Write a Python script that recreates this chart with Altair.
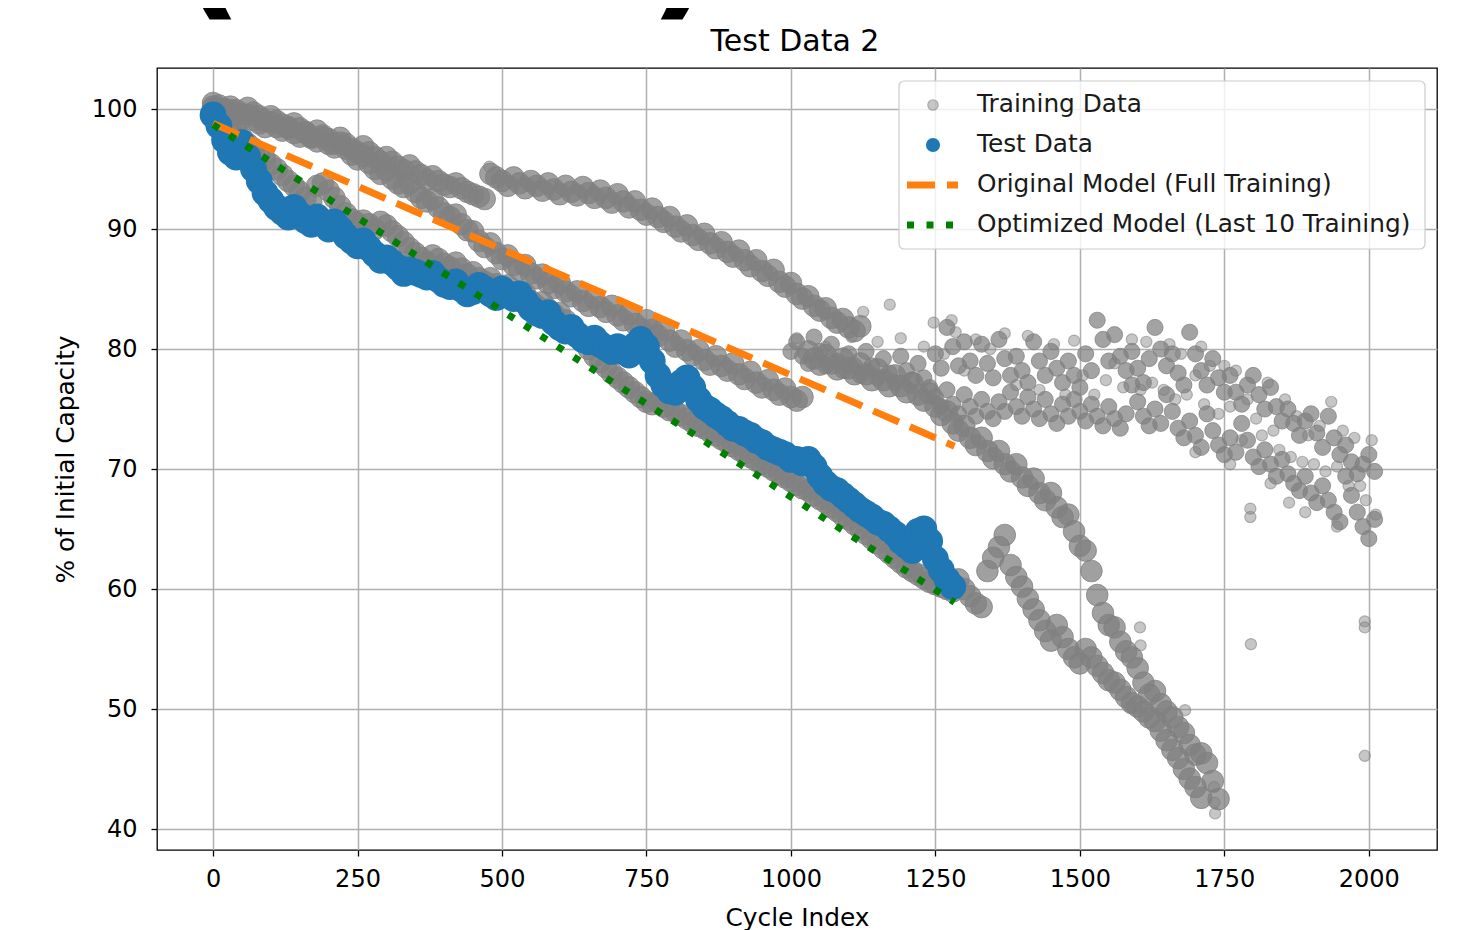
import altair as alt
import pandas as pd

# ---------------- data ----------------
STEP = 10  # cycle spacing of the listed readings

# Test cell (blue), cycles 0..1280
test_start = 0
test_y = [
    99.5, 98.6, 97.4, 96.4, 96.0, 97.2, 96.0, 95.0, 94.0, 93.0,
    92.4, 91.8, 91.4, 91.0, 91.8, 91.2, 90.7, 90.4, 91.0, 90.6,
    90.0, 90.6, 90.0, 89.4, 89.0, 88.6, 89.0, 88.4, 87.9, 87.4,
    87.6, 87.2, 86.8, 86.3, 86.6, 86.4, 86.2, 86.0, 86.3, 85.8,
    85.4, 85.2, 85.6, 85.0, 84.6, 84.8, 85.3, 85.0, 84.6, 84.3,
    85.0, 84.5, 84.2, 84.6, 84.0, 83.4, 83.0, 82.8, 83.0, 82.2,
    81.8, 81.5, 81.8, 81.2, 80.8, 80.6, 80.9, 80.4, 80.1, 79.8,
    80.2, 79.8, 79.5, 80.3, 80.8, 80.2, 79.0, 77.8, 77.0, 76.5,
    76.4, 77.2, 77.6, 76.8, 75.8, 75.2, 74.9, 74.5, 74.2, 73.8,
    73.4, 73.3, 73.0, 72.8, 72.4, 72.2, 71.8, 71.6, 71.4, 71.2,
    70.8, 70.8, 70.5, 70.8, 70.2, 69.4, 68.8, 68.4, 68.2, 67.8,
    67.4, 67.0, 66.6, 66.3, 66.0, 65.6, 65.4, 65.0, 64.6, 64.0,
    63.6, 63.2, 64.8, 65.0, 64.0, 62.5, 61.6, 60.8, 60.2,
]

# Training cell A (top band), cycles 0..1120
cell_a_start = 0
cell_a_y = [
    100.5, 100.3, 100.0, 100.2, 99.9, 99.6, 100.1, 99.7, 99.4, 99.0,
    99.4, 99.0, 98.7, 98.4, 98.8, 98.4, 98.0, 97.7, 98.2, 97.8,
    97.5, 97.1, 97.6, 97.1, 96.7, 96.4, 96.9, 96.4, 96.0, 95.6,
    96.0, 95.6, 95.2, 94.9, 95.3, 94.8, 94.5, 94.1, 94.4, 94.0,
    93.7, 93.5, 93.8, 93.4, 93.1, 92.9, 92.7, 92.5, 94.6, 94.3,
    94.0, 93.6, 94.3, 93.8, 93.4, 94.0, 93.6, 93.2, 93.8, 93.3,
    92.9, 93.6, 93.1, 92.8, 93.5, 93.0, 92.6, 93.2, 92.6, 92.2,
    92.9, 92.3, 91.8, 92.3, 91.6, 91.2, 91.7, 91.0, 90.6, 91.0,
    90.2, 89.8, 90.3, 89.5, 89.1, 89.6, 88.8, 88.4, 88.9, 88.1,
    87.7, 88.2, 87.4, 86.9, 87.4, 86.5, 86.1, 86.6, 85.6, 85.2,
    85.5, 84.6, 84.2, 84.4, 83.6, 83.2, 83.4, 82.6, 82.2, 82.5,
    81.8, 81.5, 81.9,
]

# Training cell B (below the orange line, later the right-hand falling band), cycles 0..1740
cell_b_start = 0
cell_b_y = [
    100.2, 100.0, 99.7, 99.9, 99.5, 99.2, 99.5, 99.1, 98.8, 98.5,
    98.9, 98.5, 98.2, 98.5, 98.0, 97.7, 98.1, 97.6, 97.3, 97.6,
    97.1, 96.8, 97.2, 96.7, 96.2, 95.8, 96.1, 95.5, 95.0, 94.6,
    94.9, 94.2, 93.8, 93.5, 93.8, 93.1, 92.6, 92.3, 92.5, 91.8,
    91.3, 91.0, 91.2, 90.4, 89.9, 89.8, 89.0, 88.5, 88.8, 88.0,
    87.5, 87.8, 87.0, 86.6, 87.0, 86.3, 85.9, 86.2, 85.5, 85.1,
    85.5, 84.8, 84.4, 84.8, 84.0, 83.6, 84.2, 83.5, 83.1, 83.6,
    82.8, 82.4, 82.9, 82.1, 81.7, 82.4, 81.6, 81.1, 81.6, 80.7,
    80.2, 80.7, 79.9, 79.5, 79.9, 79.1, 78.7, 79.4, 78.6, 78.2,
    78.8, 77.9, 77.5, 78.1, 77.2, 76.8, 77.4, 76.6, 76.2, 76.7,
    76.0, 75.7, 76.0, 79.8, 79.2, 78.7, 79.5, 78.8, 78.3, 79.2,
    78.4, 77.9, 78.8, 77.9, 77.4, 78.3, 77.4, 76.9, 77.8, 76.9,
    76.4, 77.2, 76.2, 75.7, 76.3, 75.2, 74.5, 74.8, 73.8, 73.2,
    73.6, 72.6, 72.0, 72.6, 71.5, 70.9, 71.5, 70.4, 69.8, 70.4,
    69.3, 68.6, 69.2, 68.0, 67.4, 68.0, 66.8, 66.0, 66.2, 64.8,
    63.6, 63.2, 61.5, 59.5, 58.0, 57.0, 56.8, 55.6, 54.8, 54.3,
    53.4, 52.2, 51.2, 51.5, 50.4, 49.8, 49.3, 48.5, 48.0, 47.0,
    46.2, 46.3, 45.5, 44.0, 42.5,
]

# Training cell C (fast fading, next to the test cell, then the left falling band), cycles 0..1710
cell_c_start = 0
cell_c_y = [
    100.0, 99.6, 99.1, 98.6, 98.1, 97.6, 97.1, 96.7, 96.3, 95.8,
    95.4, 95.0, 94.5, 94.0, 93.6, 93.1, 92.6, 92.2, 93.6, 93.8,
    93.2, 92.6, 91.9, 91.3, 90.8, 90.5, 90.7, 90.4, 90.0, 90.6,
    90.3, 89.8, 89.4, 88.9, 88.4, 88.0, 87.6, 87.2, 87.8, 87.5,
    87.1, 86.8, 87.2, 86.7, 86.2, 86.4, 85.9, 85.6, 85.9, 85.4,
    85.1, 85.3, 84.7, 84.3, 84.6, 84.0, 83.6, 83.9, 83.3, 82.9,
    83.0, 82.4, 81.8, 81.2, 80.6, 80.0, 79.4, 78.9, 78.5, 78.0,
    77.6, 77.2, 76.8, 76.4, 76.0, 75.6, 75.4, 75.6, 75.2, 74.9,
    74.8, 74.5, 74.2, 73.9, 73.6, 73.4, 73.1, 72.8, 72.5, 72.2,
    71.9, 71.6, 71.3, 71.0, 70.7, 70.4, 70.2, 69.9, 69.6, 69.3,
    69.0, 68.7, 68.4, 68.2, 67.8, 67.5, 67.2, 66.8, 66.5, 66.1,
    65.8, 65.4, 65.0, 64.6, 64.2, 63.8, 63.4, 63.0, 62.6, 62.2,
    61.8, 61.5, 61.2, 60.9, 60.6, 60.4, 60.2, 60.0, 59.8, 60.8,
    60.0, 59.4, 58.8, 58.5, 61.5, 62.6, 63.5, 64.5, 62.0, 61.0,
    60.2, 59.2, 58.3, 57.4, 56.5, 55.7, 57.0, 56.0, 55.0, 54.3,
    53.8, 55.0, 54.3, 53.6, 53.0, 52.4, 52.2, 51.6, 51.0, 50.5,
    50.2, 49.8, 49.3, 49.0, 48.2, 47.4, 46.6, 45.9, 45.0, 44.2,
    43.5, 42.6,
]

# Training cell D (noisy, upper part of the right-hand cloud), cycles 1000..2010
cell_d_start = 1000
cell_d_y = [
    79.8, 80.6, 79.4, 78.8, 81.0, 79.8, 78.6, 80.4, 79.0, 78.2,
    79.6, 78.6, 77.8, 79.8, 78.6, 77.6, 79.2, 78.0, 77.2, 79.4,
    78.2, 77.4, 78.8, 77.6, 76.8, 79.6, 78.4, 81.8, 80.2, 78.6,
    80.6, 79.0, 77.8, 80.4, 78.8, 77.6, 80.8, 79.2, 77.8, 79.4,
    78.2, 77.2, 80.6, 79.0, 77.8, 79.8, 78.4, 77.2, 79.0, 77.8,
    76.8, 79.6, 78.2, 82.4, 80.8, 79.0, 81.2, 79.4, 78.2, 79.8,
    78.4, 77.2, 79.2, 81.8, 80.0, 78.6, 79.6, 78.0, 77.0, 81.4,
    79.6, 78.2, 77.0, 79.2, 77.6, 76.4, 77.8, 76.4, 75.4, 77.0,
    77.8, 76.2, 75.0, 76.8, 75.2, 74.0, 75.0, 73.8, 72.8, 74.0,
    74.6, 73.0, 71.8, 74.4, 72.6, 71.2, 72.0, 70.6, 69.6, 70.4,
    71.2, 69.8,
]

# Training cell E (noisy, lower part of the right-hand cloud), cycles 1250..2010
cell_e_start = 1250
cell_e_y = [
    76.0, 75.2, 76.6, 75.4, 74.6, 76.2, 75.2, 74.4, 75.8, 74.8,
    74.2, 75.6, 74.8, 76.4, 75.2, 74.4, 76.0, 75.0, 74.2, 75.8,
    74.6, 73.8, 75.4, 74.4, 75.8, 74.8, 74.0, 75.4, 74.4, 73.6,
    75.2, 74.2, 73.4, 74.6, 77.0, 75.6, 74.4, 73.6, 75.0, 73.8,
    76.2, 74.8, 73.4, 72.6, 74.0, 72.8, 71.8, 74.6, 73.2, 72.0,
    71.2, 72.6, 71.4, 73.8, 72.4, 71.0, 70.2, 71.6, 70.4, 69.4,
    70.8, 69.6, 68.8, 68.2, 69.4, 68.0, 67.2, 68.6, 67.4, 66.4,
    65.6, 69.4, 67.8, 66.4, 65.2, 64.2, 65.8,
]

# Scattered single training points (outliers and the sparse cloud)
scatter_x = [
    478, 1125, 1171, 1247, 1278, 1795, 1795, 1796, 1993, 1993,
    1993, 1732, 1733, 1734, 1604, 1605, 1587, 1682,
    1010, 1060, 1105, 1150, 1190, 1230, 1265, 1285, 1300, 1320,
    1345, 1370, 1390, 1410, 1430, 1455, 1475, 1490, 1505, 1525,
    1545, 1560, 1575, 1590, 1605, 1615, 1625, 1645, 1655, 1665,
    1675, 1685, 1700, 1710, 1715, 1725, 1740, 1750, 1760, 1770,
    1780, 1790, 1805, 1815, 1825, 1835, 1845, 1855, 1865, 1875,
    1885, 1895, 1905, 1915, 1925, 1935, 1945, 1955, 1965, 1975,
    1985, 1995, 2005, 2012, 1890, 1945, 1862, 1830, 1760, 1700,
]
scatter_y = [
    95.2, 83.1, 83.7, 82.2, 82.4, 66.7, 66.0, 55.4, 57.3, 56.8,
    46.1, 43.5, 42.2, 41.3, 56.8, 55.3, 50.2, 49.9,
    80.9, 80.2, 81.0, 80.6, 80.9, 80.2, 79.6, 81.4, 78.2, 80.8,
    80.0, 81.3, 77.0, 81.1, 76.6, 80.4, 76.2, 80.7, 77.8, 76.2,
    77.4, 78.8, 76.8, 80.8, 76.6, 80.6, 77.2, 76.6, 80.4, 75.8,
    79.6, 76.2, 77.8, 80.2, 75.4, 78.6, 74.6, 78.6, 75.2, 78.2,
    72.4, 75.8, 74.2, 72.8, 77.2, 73.2, 71.6, 75.8, 71.0, 74.4,
    70.6, 72.8, 70.4, 73.6, 69.8, 75.6, 70.2, 73.2, 68.6, 72.6,
    68.6, 67.4, 72.4, 66.2, 66.4, 65.2, 67.2, 68.8, 70.4, 71.4,
]

# Model predictions (straight lines over the test cell's cycles)
orig_x = [0, 1283]
orig_y = [98.8, 71.9]
opt_x = [0, 1283]
opt_y = [98.7, 58.9]

title_text = "Test Data 2"
legend_labels = [
    "Training Data",
    "Test Data",
    "Original Model (Full Training)",
    "Optimized Model (Last 10 Training)",
]

# ---------------- tables ----------------
def cell_table(start, ys, name):
    return pd.DataFrame({
        "cycle": [start + i * STEP for i in range(len(ys))],
        "pct": ys,
        "cell": name,
    })

dense_df = pd.concat([
    cell_table(cell_a_start, cell_a_y, "A"),
    cell_table(cell_b_start, cell_b_y, "B"),
    cell_table(cell_c_start, cell_c_y, "C"),
], ignore_index=True)
noisy_df = pd.concat([
    cell_table(cell_d_start, cell_d_y, "D"),
    cell_table(cell_e_start, cell_e_y, "E"),
], ignore_index=True)
scatter_df = pd.DataFrame({"cycle": scatter_x, "pct": scatter_y})
test_df = cell_table(test_start, test_y, "test")
orig_df = pd.DataFrame({"cycle": orig_x, "pct": orig_y})
opt_df = pd.DataFrame({"cycle": opt_x, "pct": opt_y})
one = pd.DataFrame({"k": [0]})

FONT = "DejaVu Sans"
GRAY = "#808080"
BLUE = "#1f77b4"
ORANGE = "#ff7f0e"
GREEN = "#008000"
TICK_FS = 24
TEXT_FS = 24.8

x_enc = alt.X(
    "cycle:Q",
    scale=alt.Scale(domain=[-97, 2118], nice=False, zero=False),
    axis=alt.Axis(
        values=[0, 250, 500, 750, 1000, 1250, 1500, 1750, 2000], format="d",
        labelFont=FONT, labelFontSize=TICK_FS, labelColor="black", labelPadding=11,
        labelFlush=False, labelOverlap=False,
        tickColor="black", tickSize=6, tickWidth=1.3, domain=False,
        grid=True, gridColor="#b0b0b0", gridWidth=1.5,
        title="Cycle Index", titleFont=FONT, titleFontSize=TEXT_FS,
        titleFontWeight="normal", titleColor="black", titlePadding=14,
    ),
)
y_enc = alt.Y(
    "pct:Q",
    scale=alt.Scale(domain=[38.25, 103.42], nice=False, zero=False),
    axis=alt.Axis(
        values=[40, 50, 60, 70, 80, 90, 100], format="d",
        labelFont=FONT, labelFontSize=TICK_FS, labelColor="black", labelPadding=14,
        labelFlush=False, labelOverlap=False,
        tickColor="black", tickSize=6, tickWidth=1.3, domain=False,
        grid=True, gridColor="#b0b0b0", gridWidth=1.5,
        title="% of Initial Capacity", titleFont=FONT, titleFontSize=TEXT_FS,
        titleFontWeight="normal", titleColor="black", titlePadding=13,
    ),
)

dense_layer = alt.Chart(dense_df).mark_circle(
    size=470, opacity=1, fill=GRAY, fillOpacity=0.75, stroke=GRAY, strokeOpacity=0.75, strokeWidth=1
).encode(x=x_enc, y=y_enc)
noisy_layer = alt.Chart(noisy_df).mark_circle(
    size=260, opacity=1, fill=GRAY, fillOpacity=0.72, stroke=GRAY, strokeOpacity=0.72, strokeWidth=1
).encode(x=x_enc, y=y_enc)
scatter_layer = alt.Chart(scatter_df).mark_circle(
    size=125, opacity=1, fill=GRAY, fillOpacity=0.45, stroke=GRAY, strokeOpacity=0.55, strokeWidth=1.2
).encode(x=x_enc, y=y_enc)
test_layer = alt.Chart(test_df).mark_circle(size=720, color=BLUE, opacity=1).encode(x=x_enc, y=y_enc)
orig_layer = alt.Chart(orig_df).mark_line(
    color=ORANGE, strokeWidth=7, strokeDash=[28, 12], strokeCap="butt"
).encode(x=x_enc, y=y_enc)
opt_layer = alt.Chart(opt_df).mark_line(
    color=GREEN, strokeWidth=7, strokeDash=[7, 12.5], strokeCap="butt"
).encode(x=x_enc, y=y_enc)

# ---------------- legend (drawn by hand, upper right) ----------------
leg_box = alt.Chart(one).mark_rect(
    fill="white", fillOpacity=0.8, stroke="#cccccc", strokeWidth=1.2, cornerRadius=5
).encode(x=alt.value(742), x2=alt.value(1268), y=alt.value(13), y2=alt.value(181))
leg_rows = [37, 77, 117, 157]
leg_train = alt.Chart(one).mark_circle(
    size=110, opacity=1, fill=GRAY, fillOpacity=0.45, stroke=GRAY, strokeOpacity=0.55, strokeWidth=1.2
).encode(x=alt.value(776), y=alt.value(leg_rows[0]))
leg_test = alt.Chart(one).mark_circle(size=200, color=BLUE, opacity=1).encode(
    x=alt.value(776), y=alt.value(leg_rows[1]))
leg_orig = alt.Chart(one).mark_rule(
    color=ORANGE, strokeWidth=7, strokeDash=[28, 12], strokeCap="butt"
).encode(x=alt.value(750), x2=alt.value(801), y=alt.value(leg_rows[2]))
leg_opt = alt.Chart(one).mark_rule(
    color=GREEN, strokeWidth=7, strokeDash=[7, 12.5], strokeCap="butt"
).encode(x=alt.value(750), x2=alt.value(801), y=alt.value(leg_rows[3]))
leg_texts = [
    alt.Chart(one).mark_text(
        align="left", baseline="middle", font=FONT, fontSize=TEXT_FS, color="#1a1a1a"
    ).encode(x=alt.value(820), y=alt.value(r), text=alt.value(lbl))
    for r, lbl in zip(leg_rows, legend_labels)
]

# chart title, drawn as text above the plot area
title_layer = alt.Chart(one).mark_text(
    font=FONT, fontSize=30, align="center", baseline="alphabetic", color="black"
).encode(x=alt.value(638), y=alt.value(-17), text=alt.value(title_text))

# clipped remains of a large heading above the figure
paren_l = alt.Chart(one).mark_text(
    font=FONT, fontSize=150, fontWeight="bold", align="center", baseline="alphabetic", color="black"
).encode(x=alt.value(52), y=alt.value(-68), text=alt.value("("))
paren_r = alt.Chart(one).mark_text(
    font=FONT, fontSize=150, fontWeight="bold", align="center", baseline="alphabetic", color="black"
).encode(x=alt.value(526), y=alt.value(-68), text=alt.value(")"))

chart = alt.layer(
    dense_layer, noisy_layer, scatter_layer, test_layer, orig_layer, opt_layer,
    leg_box, leg_train, leg_test, leg_orig, leg_opt, *leg_texts,
    title_layer, paren_l, paren_r,
).properties(
    width=1280,
    height=782,
    autosize=alt.AutoSizeParams(type="none"),
    padding={"left": 149, "top": 60, "right": 25, "bottom": 80},
    background="white",
).configure_view(stroke="black", strokeWidth=1.3)

chart.save("out.html", embed_options={"renderer": "svg", "actions": False})
